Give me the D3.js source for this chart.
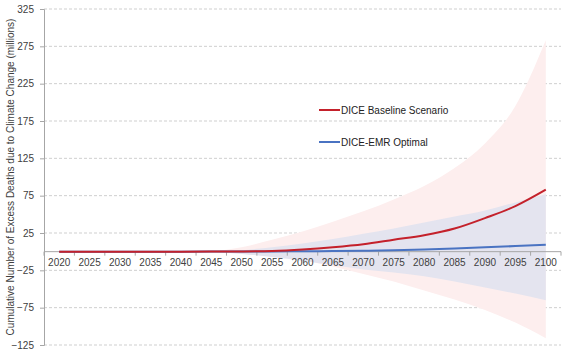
<!DOCTYPE html>
<html>
<head>
<meta charset="utf-8">
<script src="https://cdn.jsdelivr.net/npm/d3@7"></script>
<style>
  html, body { margin: 0; padding: 0; background: #fff; }
  svg { display: block; font-family: "Liberation Sans", Arial, sans-serif; }
</style>
</head>
<body>
<svg id="chart" width="570" height="360"></svg>
<script>
// ---- data ----
const years = [2020, 2025, 2030, 2035, 2040, 2045, 2050, 2055, 2060, 2065, 2070, 2075, 2080, 2085, 2090, 2095, 2100];
const baseline = [0, 0, 0, 0, 0, 0.1, 0.3, 1, 3, 6, 10, 16, 22, 31, 45, 61, 83];
const emrOptimal = [0, 0, 0, 0, 0, 0.1, 0.2, 0.3, 0.5, 0.8, 1.2, 1.8, 3, 4.3, 5.8, 7.5, 9.4];
const baselineUpper = [null, null, null, null, null, 0, 6, 16, 27, 40, 54, 70, 88, 112, 145, 195, 283];
const baselineLower = [null, null, null, null, null, 0, -2, -6, -11, -20, -30, -40, -52, -64, -78, -95, -116];
const emrUpper = [null, null, null, null, null, 0, 2, 6, 11, 17, 24, 31, 39, 47, 55, 66, 77];
const emrLower = [null, null, null, null, null, 0, -3, -7, -12, -18, -24, -28, -33, -40, -48, -56, -65];
const yTicks = [-125, -75, -25, 25, 75, 125, 175, 225, 275, 325];
const seriesNames = ["DICE Baseline Scenario", "DICE-EMR Optimal"];
const yTitle = "Cumulative Number of Excess Deaths due to Climate Change (millions)";

// ---- layout ----
const svg = d3.select("#chart");
const mLeft = 44, mRight = 561, mTop = 9, mBottom = 345;
const FONT = "'Liberation Sans', Arial, sans-serif";

const x = d3.scaleBand().domain(years).range([mLeft, mRight]).paddingInner(0).paddingOuter(0);
const cx = yr => x(yr) + x.bandwidth() / 2;
const y = d3.scaleLinear().domain([-125, 325]).range([mBottom, mTop]);

// gridlines
svg.append("g").selectAll("line").data(yTicks).join("line")
  .attr("x1", mLeft).attr("x2", mRight)
  .attr("y1", d => y(d)).attr("y2", d => y(d))
  .attr("stroke", "#cfcfcf").attr("stroke-width", 1)
  .attr("stroke-dasharray", "3,2");

const idx = d3.range(years.length);

// bands
const bandArea = (lo, hi) => d3.area()
  .defined(i => lo[i] !== null && hi[i] !== null)
  .curve(d3.curveMonotoneX)
  .x(i => cx(years[i]))
  .y0(i => y(lo[i]))
  .y1(i => y(hi[i]));

svg.append("path").datum(idx)
  .attr("d", bandArea(baselineLower, baselineUpper))
  .attr("fill", "#fdeeee");
svg.append("path").datum(idx)
  .attr("d", bandArea(emrLower, emrUpper))
  .attr("fill", "#e4e4ef");

// y axis
const yAxis = svg.append("g").attr("transform", `translate(${mLeft},0)`)
  .call(d3.axisLeft(y).tickValues(yTicks).tickSize(4).tickPadding(6).tickFormat(d3.format("d")));
yAxis.select(".domain").attr("stroke", "#a6a6a6");
yAxis.selectAll(".tick line").attr("stroke", "#a6a6a6");
yAxis.selectAll(".tick text").attr("fill", "#404040").style("font-size", "10px")
  .style("font-family", FONT);

// x axis at y=0
const x0 = y(0);
const xAxis = svg.append("g").attr("transform", `translate(0,${x0})`)
  .call(d3.axisBottom(x).tickSize(0).tickPadding(7));
xAxis.select(".domain").remove();
xAxis.selectAll(".tick text").attr("fill", "#404040").style("font-size", "10px")
  .style("font-family", FONT);
svg.append("line").attr("x1", mLeft).attr("x2", mRight).attr("y1", x0).attr("y2", x0)
  .attr("stroke", "#a6a6a6");
svg.append("g").selectAll("line").data(years.concat(["end"])).join("line")
  .attr("x1", d => d === "end" ? mRight : x(d))
  .attr("x2", d => d === "end" ? mRight : x(d))
  .attr("y1", x0).attr("y2", x0 + 4)
  .attr("stroke", "#a6a6a6");

// lines
const lineGen = vals => d3.line().curve(d3.curveMonotoneX).x(i => cx(years[i])).y(i => y(vals[i]));
svg.append("path").datum(idx).attr("d", lineGen(emrOptimal))
  .attr("fill", "none").attr("stroke", "#4a73c2").attr("stroke-width", 2);
svg.append("path").datum(idx).attr("d", lineGen(baseline))
  .attr("fill", "none").attr("stroke", "#c4212b").attr("stroke-width", 2);

// legend
const legColors = ["#c4212b", "#4a73c2"];
const legY = [110, 142];
const leg = svg.append("g");
seriesNames.forEach((name, i) => {
  leg.append("line").attr("x1", 319).attr("x2", 340)
    .attr("y1", legY[i]).attr("y2", legY[i])
    .attr("stroke", legColors[i]).attr("stroke-width", 2);
  leg.append("text").attr("x", 341).attr("y", legY[i]).attr("dy", "0.35em")
    .attr("fill", "#222").style("font-size", "10px").style("font-family", FONT).text(name);
});

// y title
svg.append("text")
  .attr("transform", `translate(10,${(mTop + mBottom) / 2}) rotate(-90)`)
  .attr("text-anchor", "middle").attr("dy", "0.35em")
  .attr("fill", "#404040").style("font-size", "10px").style("font-family", FONT)
  .text(yTitle);
</script>
</body>
</html>
